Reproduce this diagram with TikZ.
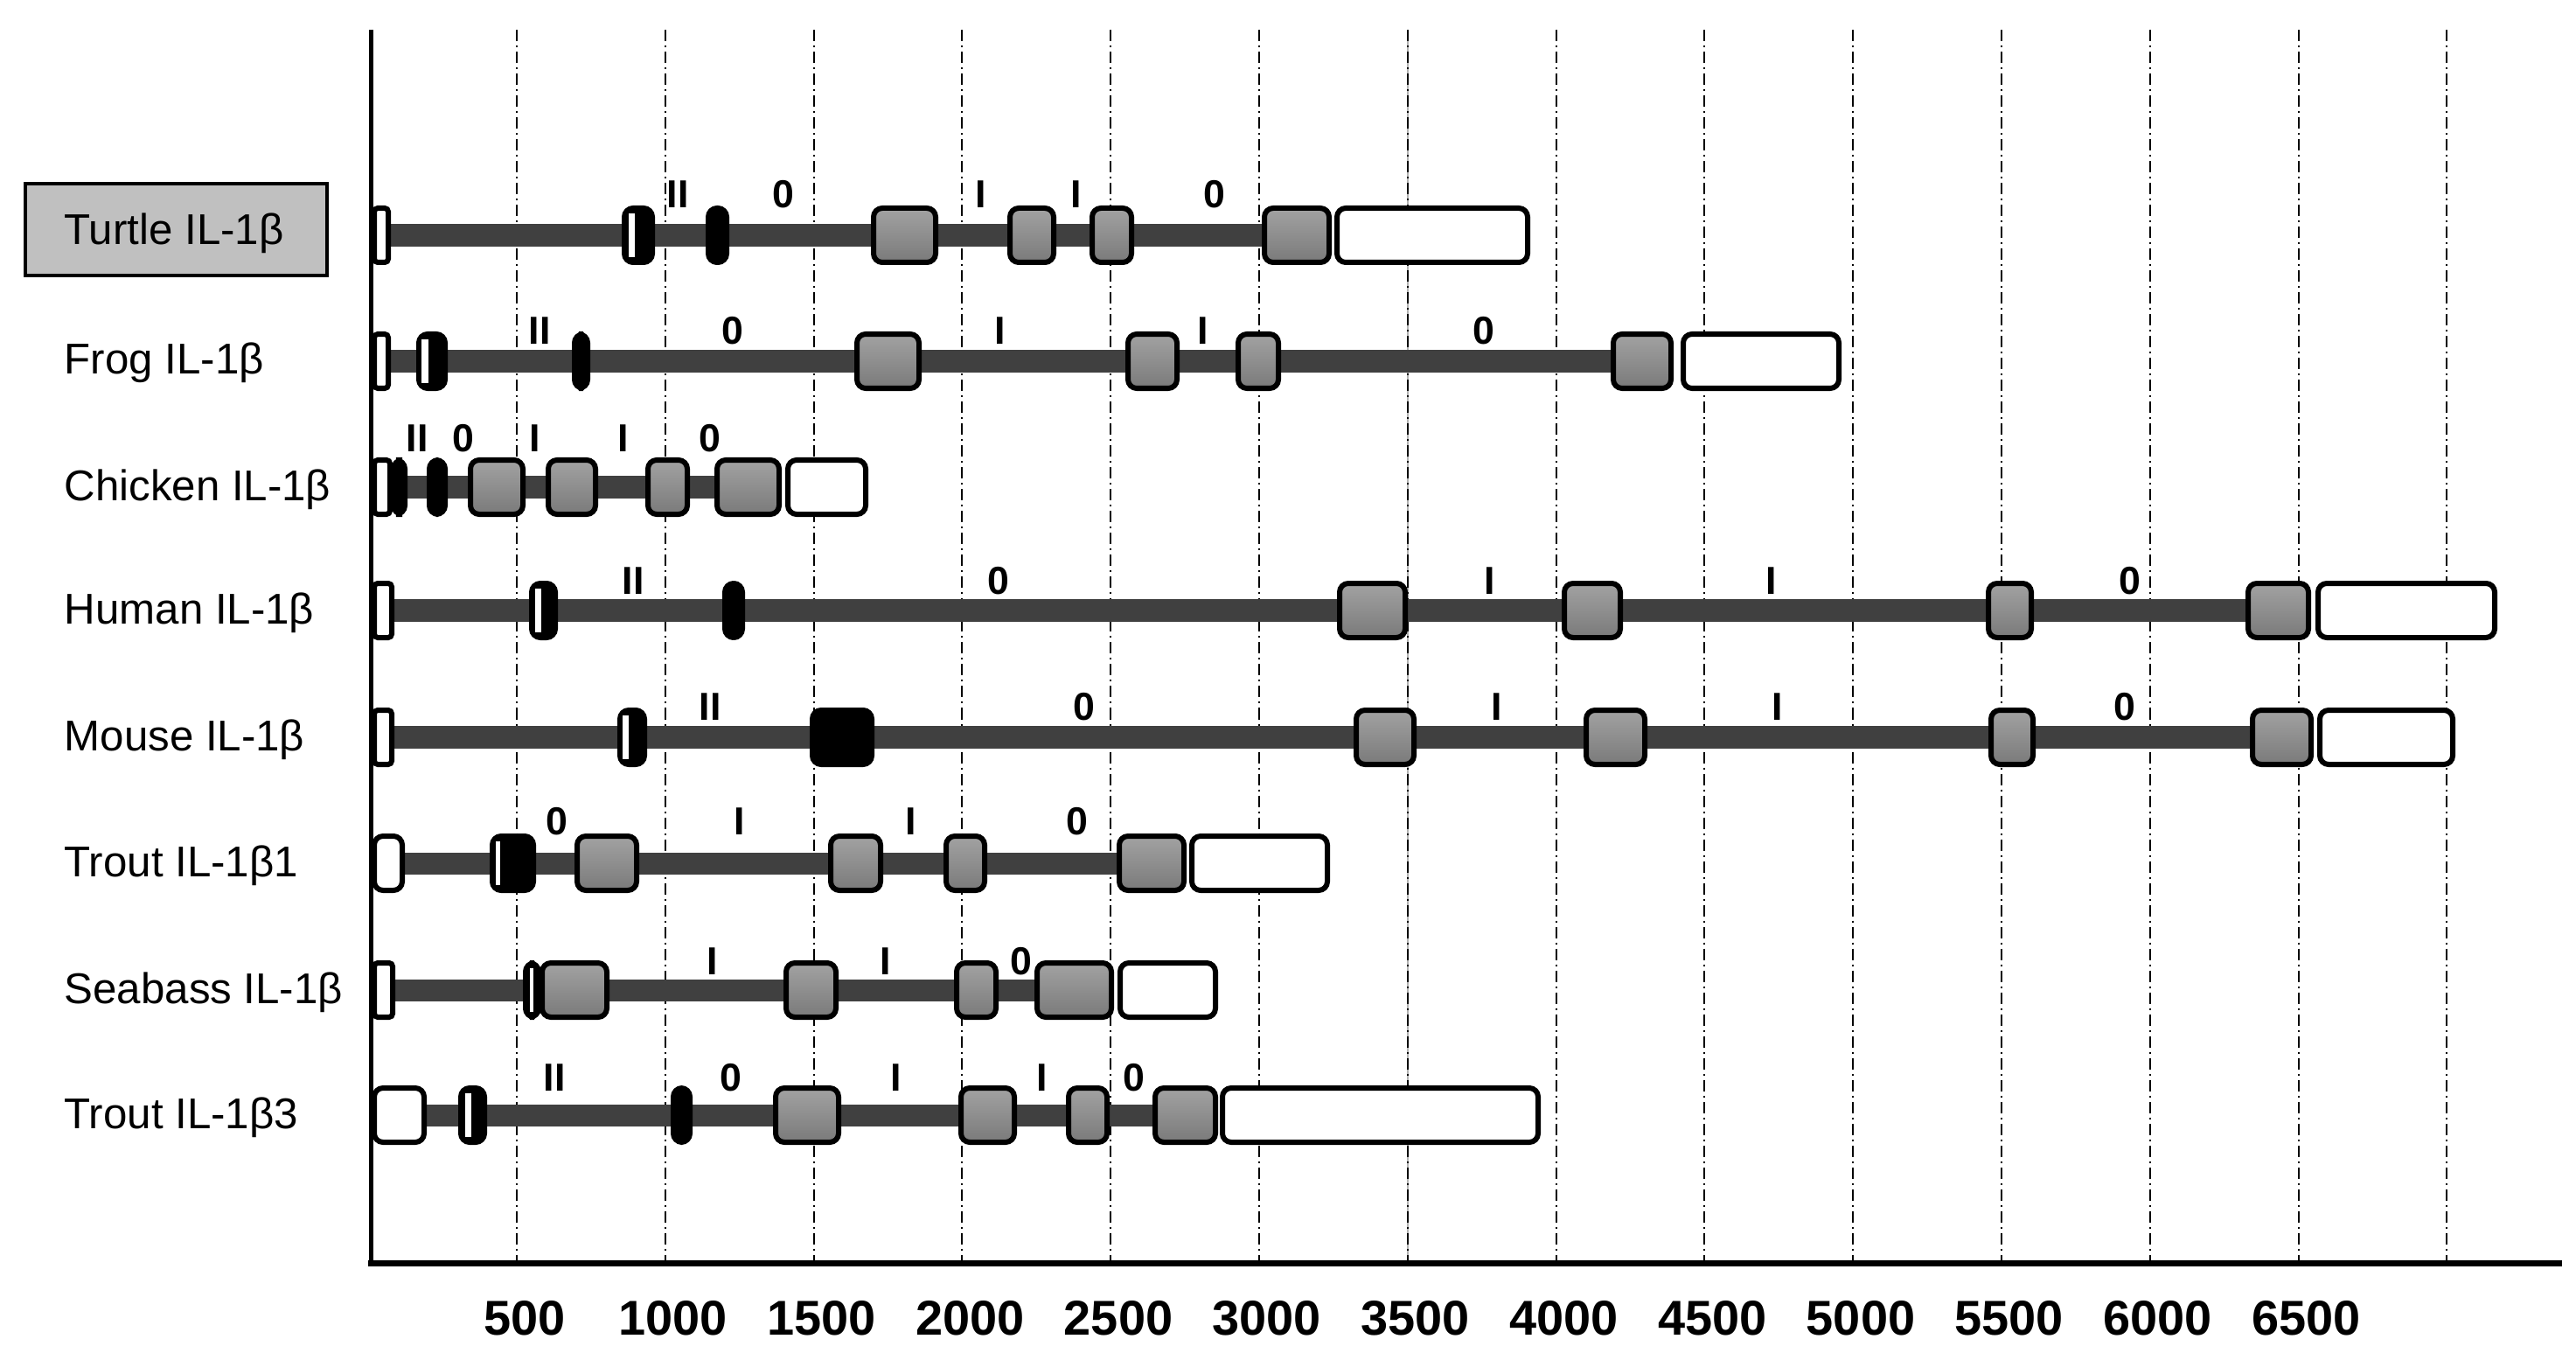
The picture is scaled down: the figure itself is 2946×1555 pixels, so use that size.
\documentclass[tikz,border=0pt]{standalone}
\usepackage{fontspec}
\setmainfont{Liberation Sans}
\definecolor{exTop}{HTML}{A2A2A2}
\definecolor{exBot}{HTML}{7A7A7A}
\definecolor{intronC}{HTML}{404040}
\definecolor{boxC}{HTML}{C0C0C0}
\tikzset{
  exonbox/.style={draw=black, line width=0.06cm, rounded corners=0.1cm, top color=exTop, bottom color=exBot},
  utrbox/.style={draw=black, line width=0.06cm, rounded corners=0.1cm, fill=white},
  smallutr/.style={draw=black, line width=0.06cm, rounded corners=0.04cm, fill=white},
  blkbox/.style={draw=black, line width=0.06cm, rounded corners=0.1cm, fill=black},
  intronbar/.style={line width=0.25cm, draw=intronC},
  gridln/.style={line width=0.02cm, dash pattern=on 0.13cm off 0.05cm on 0.02cm off 0.05cm},
  phase/.style={font=\bfseries\fontsize{12.7}{14}\selectfont, inner sep=0},
  rowlabel/.style={font=\fontsize{14}{16}\selectfont, anchor=base west, inner sep=0},
  ticklabel/.style={font=\bfseries\fontsize{15.9}{18}\selectfont, inner sep=0},
}
\newcommand\GEx[3]{\path[exonbox] ({#1+3},{#3-31}) rectangle ({#2-3},{#3+31});}
\newcommand\UEx[3]{\path[utrbox] ({#1+3},{#3-31}) rectangle ({#2-3},{#3+31});}
\newcommand\SUEx[3]{\path[smallutr] ({#1+3},{#3-31}) rectangle ({#2-3},{#3+31});}
\newcommand\BEx[3]{\path[blkbox] ({#1+3},{#3-31}) rectangle ({#2-3},{#3+31});}
\newcommand\HEx[5]{\path[blkbox] ({#1+3},{#5-31}) rectangle ({#2-3},{#5+31});
  \fill[white] (#3,{#5-25}) rectangle (#4,{#5+25});}
\newcommand\Bar[3]{\draw[intronbar] (#1,#3) -- (#2,#3);}
\begin{document}
\begin{tikzpicture}[x=0.01cm, y=-0.01cm]
\useasboundingbox (0,0) rectangle (2946,1555);
\fill[white] (0,0) rectangle (2946,1555);
% grid
\draw[line width=0.02cm, gray!60] ({421.2+169.8*7},34) -- ({421.2+169.8*7},1444);
\foreach \k in {1,...,14} {\draw[gridln] ({421.2+169.8*\k},34) -- ({421.2+169.8*\k},1444);}
% axes
\draw[line width=0.05cm] (424,34) -- (424,1444);
\draw[line width=0.07cm] (421,1444) -- (2930,1444);
\foreach \v [count=\k] in {500,1000,...,6500} {\node[ticklabel] (tick\k) at ({430+169.8*\k},1507) {\v};}
% labels
\node[draw, line width=0.04cm, fill=boxC, minimum width=3.45cm, minimum height=1.05cm, inner sep=0] (turtlebox) at (201.5,262.5) {};
\node[rowlabel] (lTurtle) at (73,280) {Turtle IL-1β};
\node[rowlabel] (lFrog) at (73,428) {Frog IL-1β};
\node[rowlabel] (lChicken) at (73,572) {Chicken IL-1β};
\node[rowlabel] (lHuman) at (73,713) {Human IL-1β};
\node[rowlabel] (lMouse) at (73,858) {Mouse IL-1β};
\node[rowlabel] (lTrout1) at (73,1002) {Trout IL-1β1};
\node[rowlabel] (lSeabass) at (73,1147) {Seabass IL-1β};
\node[rowlabel] (lTrout3) at (73,1290) {Trout IL-1β3};
% Turtle
\Bar{440}{1450}{269}
\SUEx{425}{447}{269}
\HEx{711}{749}{719}{726}{269}
\BEx{807}{834}{269}
\GEx{996}{1073}{269}\GEx{1152}{1208}{269}\GEx{1246}{1297}{269}\GEx{1443}{1523}{269}
\UEx{1526}{1750}{269}
\node[phase] (pT1) at (775,222) {II};
\node[phase] (pT2) at (896,222) {0};
\node[phase] (pT3) at (1122,222) {I};
\node[phase] (pT4) at (1231,222) {I};
\node[phase] (pT5) at (1389,222) {0};
% Frog
\Bar{440}{1850}{413}
\SUEx{425}{447}{413}
\HEx{476}{512}{482}{490}{413}
\BEx{654}{675}{413}
\GEx{977}{1054}{413}\GEx{1287}{1349}{413}\GEx{1413}{1465}{413}\GEx{1842}{1914}{413}
\UEx{1922}{2106}{413}
\node[phase] (pF1) at (617,378) {II};
\node[phase] (pF2) at (838,378) {0};
\node[phase] (pF3) at (1144,378) {I};
\node[phase] (pF4) at (1376,378) {I};
\node[phase] (pF5) at (1697,378) {0};
% Chicken
\Bar{440}{820}{557}
\SUEx{425}{449}{557}
\BEx{447}{466}{557}
\BEx{488}{512}{557}
\GEx{535}{601}{557}\GEx{624}{684}{557}\GEx{738}{789}{557}\GEx{817}{894}{557}
\UEx{898}{993}{557}
\node[phase] (pC1) at (477,501) {II};
\node[phase] (pC2) at (530,501) {0};
\node[phase] (pC3) at (612,501) {I};
\node[phase] (pC4) at (713,501) {I};
\node[phase] (pC5) at (812,501) {0};
% Human
\Bar{440}{2570}{698}
\SUEx{425}{451}{698}
\HEx{605}{638}{612}{619}{698}
\BEx{826}{852}{698}
\GEx{1529}{1610}{698}\GEx{1786}{1856}{698}\GEx{2271}{2326}{698}\GEx{2568}{2643}{698}
\UEx{2648}{2856}{698}
\node[phase] (pH1) at (724,664) {II};
\node[phase] (pH2) at (1142,664) {0};
\node[phase] (pH3) at (1704,664) {I};
\node[phase] (pH4) at (2026,664) {I};
\node[phase] (pH5) at (2436,664) {0};
% Mouse
\Bar{440}{2575}{843}
\SUEx{425}{451}{843}
\HEx{706}{740}{712}{719}{843}
\BEx{926}{1000}{843}
\GEx{1548}{1620}{843}\GEx{1811}{1884}{843}\GEx{2274}{2328}{843}\GEx{2573}{2646}{843}
\UEx{2650}{2808}{843}
\node[phase] (pM1) at (812,808) {II};
\node[phase] (pM2) at (1240,808) {0};
\node[phase] (pM3) at (1712,808) {I};
\node[phase] (pM4) at (2033,808) {I};
\node[phase] (pM5) at (2430,808) {0};
% Trout IL-1b1
\Bar{450}{1280}{987}
\UEx{425}{463}{987}
\HEx{560}{613}{567}{572}{987}
\GEx{657}{731}{987}\GEx{947}{1010}{987}\GEx{1079}{1129}{987}\GEx{1277}{1357}{987}
\UEx{1360}{1521}{987}
\node[phase] (pR1) at (637,939) {0};
\node[phase] (pR2) at (846,939) {I};
\node[phase] (pR3) at (1042,939) {I};
\node[phase] (pR4) at (1232,939) {0};
% Seabass
\Bar{440}{1190}{1132}
\SUEx{425}{452}{1132}
\HEx{598}{619}{606}{610}{1132}
\GEx{617}{697}{1132}\GEx{896}{959}{1132}\GEx{1091}{1142}{1132}\GEx{1183}{1274}{1132}
\UEx{1278}{1393}{1132}
\node[phase] (pS1) at (815,1099) {I};
\node[phase] (pS2) at (1013,1099) {I};
\node[phase] (pS3) at (1168,1099) {0};
% Trout IL-1b3
\Bar{470}{1320}{1275}
\UEx{425}{488}{1275}
\HEx{524}{557}{532}{539}{1275}
\BEx{767}{792}{1275}
\GEx{884}{962}{1275}\GEx{1096}{1163}{1275}\GEx{1219}{1269}{1275}\GEx{1318}{1393}{1275}
\UEx{1395}{1762}{1275}
\node[phase] (pU1) at (634,1232) {II};
\node[phase] (pU2) at (836,1232) {0};
\node[phase] (pU3) at (1025,1232) {I};
\node[phase] (pU4) at (1192,1232) {I};
\node[phase] (pU5) at (1297,1232) {0};
\end{tikzpicture}
\end{document}
